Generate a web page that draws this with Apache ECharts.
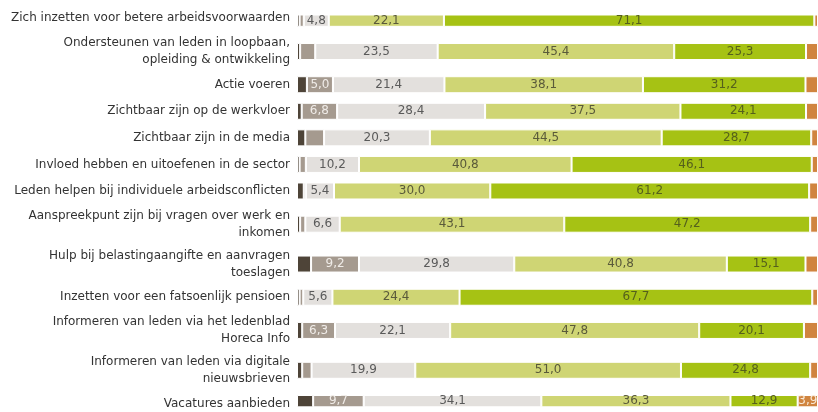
<!DOCTYPE html>
<html>
<head>
<meta charset="utf-8">
<script src="https://cdn.jsdelivr.net/npm/echarts@6/dist/echarts.min.js"></script>
<style>
  html, body { margin: 0; padding: 0; background: #fff; }
  #main { width: 818px; height: 412px; }
</style>
</head>
<body>
<div id="main"></div>
<script>
// categories, top to bottom (\n = line break as in the picture)
var categories = [
  'Zich inzetten voor betere arbeidsvoorwaarden',
  'Ondersteunen van leden in loopbaan,\nopleiding & ontwikkeling',
  'Actie voeren',
  'Zichtbaar zijn op de werkvloer',
  'Zichtbaar zijn in de media',
  'Invloed hebben en uitoefenen in de sector',
  'Leden helpen bij individuele arbeidsconflicten',
  'Aanspreekpunt zijn bij vragen over werk en\ninkomen',
  'Hulp bij belastingaangifte en aanvragen\ntoeslagen',
  'Inzetten voor een fatsoenlijk pensioen',
  'Informeren van leden via het ledenblad\nHoreca Info',
  'Informeren van leden via digitale\nnieuwsbrieven',
  'Vacatures aanbieden'
];

var seriesNames = ['Zeer onbelangrijk', 'Onbelangrijk', 'Neutraal', 'Belangrijk', 'Zeer belangrijk', 'Weet niet'];

var zeerOnbelangrijk = [0.5, 0.6, 1.9, 0.9, 1.6, 0.5, 1.3, 0.6, 2.7, 0.5, 1.0, 1.0, 3.1];
var onbelangrijk     = [0.8, 2.9, 5.0, 6.8, 3.6, 1.2, 0.4, 1.0, 9.2, 0.7, 6.3, 1.8, 9.7];
var neutraal         = [4.8, 23.5, 21.4, 28.4, 20.3, 10.2, 5.4, 6.6, 29.8, 5.6, 22.1, 19.9, 34.1];
var belangrijk       = [22.1, 45.4, 38.1, 37.5, 44.5, 40.8, 30.0, 43.1, 40.8, 24.4, 47.8, 51.0, 36.3];
var zeerBelangrijk   = [71.1, 25.3, 31.2, 24.1, 28.7, 46.1, 61.2, 47.2, 15.1, 67.7, 20.1, 24.8, 12.9];
var weetNiet         = [0.7, 2.3, 2.4, 2.3, 1.3, 1.2, 1.7, 1.5, 2.4, 1.1, 2.7, 1.5, 3.9];

var values = [zeerOnbelangrijk, onbelangrijk, neutraal, belangrijk, zeerBelangrijk, weetNiet];
var colors = ['#4e4438', '#a59a8f', '#e3e0dd', '#cfd574', '#a6c214', '#d0843f'];
var labelColors = ['#f0ece8', '#f0ece8', '#5a5a5a', '#5a5a3a', '#55601c', '#f8ead8'];

// rows with two-line labels get more room; spread rows over fine slots
var lines = categories.map(function (c) { return c.split('\n').length; });
var pos = [0];
for (var i = 1; i < categories.length; i++) {
  pos.push(pos[i - 1] + lines[i - 1] + lines[i] + 2);
}
var slotCount = pos[pos.length - 1] + 1;
var axisData = [];
for (var k = 0; k < slotCount; k++) axisData.push('s' + k);
var labelAt = {};
pos.forEach(function (p, idx) { labelAt['s' + p] = categories[idx]; });

function spread(arr) {
  var out = [];
  for (var k = 0; k < slotCount; k++) out.push(null);
  pos.forEach(function (p, idx) { out[p] = arr[idx]; });
  return out;
}

var chart = echarts.init(document.getElementById('main'));

var option = {
  backgroundColor: '#fff',
  animation: false,
  textStyle: { fontFamily: 'DejaVu Sans' },
  grid: { left: 297, right: -1, top: 15, bottom: 5 },
  xAxis: {
    type: 'value',
    min: 0,
    max: 100,
    show: false
  },
  yAxis: {
    type: 'category',
    inverse: true,
    data: axisData,
    axisLine: { show: false },
    axisTick: { show: false },
    axisLabel: {
      interval: 0,
      margin: 7,
      fontSize: 12,
      lineHeight: 17,
      color: '#333',
      align: 'right',
      formatter: function (v) { return labelAt[v] || ''; }
    }
  },
  series: values.map(function (arr, s) {
    return {
      name: seriesNames[s],
      type: 'bar',
      stack: 'total',
      barWidth: 17,
      data: spread(arr),
      itemStyle: { color: colors[s], borderColor: '#fff', borderWidth: 1 },
      label: {
        show: true,
        position: 'inside',
        fontSize: 12,
        color: labelColors[s],
        formatter: function (p) {
          if (p.value == null || p.value < 3.8) return '';
          return p.value.toFixed(1).replace('.', ',');
        }
      }
    };
  })
};

chart.setOption(option);
</script>
</body>
</html>
